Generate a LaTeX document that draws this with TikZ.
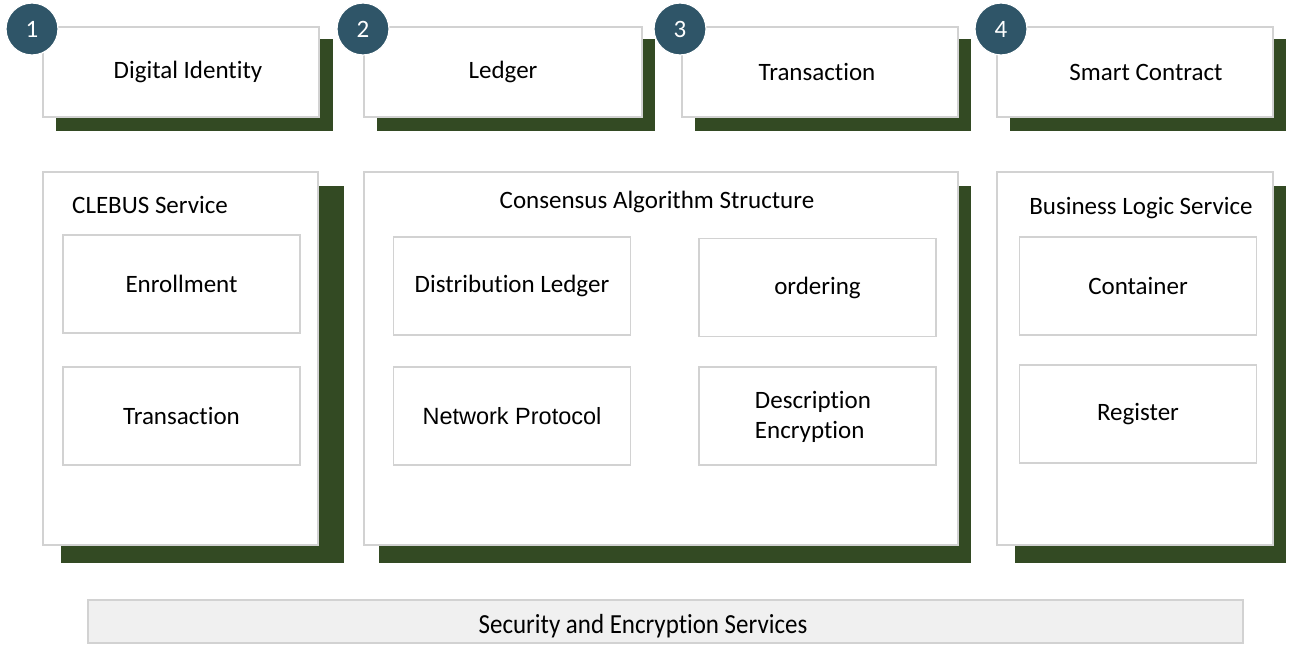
\documentclass[tikz,border=0pt]{standalone}
\usepackage{fontspec}
\setmainfont{Carlito}[Ligatures={NoCommon}]
\newfontfamily\arialfont{Liberation Sans}
\usetikzlibrary{backgrounds}
\definecolor{sgreen}{HTML}{334A23}
\definecolor{cblue}{HTML}{2F5568}
\definecolor{bgray}{HTML}{D2D2D2}
\definecolor{barfill}{HTML}{F0F0F0}
\begin{document}
\begin{tikzpicture}[x=1pt,y=-1pt,
  box/.style={draw=bgray, line width=1.8pt, fill=white, inner sep=0pt, align=center,
    font=\fontsize{25}{30}\selectfont},
  topbox/.style={box, minimum width=276pt, minimum height=90pt},
  bigbox/.style={box, minimum height=373pt},
  innerbox/.style={box, minimum width=237pt, minimum height=98pt},
  numc/.style={circle, fill=cblue, draw=white, line width=1.2pt, minimum size=52pt, inner sep=0pt,
    text=white, font=\fontsize{25}{28}\selectfont},
  title/.style={inner sep=0pt, font=\fontsize{25}{30}\selectfont},
  shadowfill/.style={fill=sgreen}
]
\useasboundingbox (0,0) rectangle (1289,645);

% top boxes
\node[topbox] (t1) at (181,72) {\raisebox{-2pt}{\hspace*{14pt}Digital Identity}};
\node[topbox, minimum width=278pt] (t2) at (503,72) {\raisebox{-2pt}{Ledger}};
\node[topbox] (t3) at (820,72) {Transaction\hspace*{6pt}};
\node[topbox] (t4) at (1135,72) {\hspace*{22pt}Smart Contract};

% number circles
\node[numc] (n1) at (32,29) {1};
\node[numc] (n2) at (363,29) {2};
\node[numc] (n3) at (680,29) {3};
\node[numc] (n4) at (1001,29) {4};

% middle boxes
\node[bigbox, minimum width=275pt] (m1) at (180.5,358.5) {};
\node[bigbox, minimum width=594pt] (m2) at (661,358.5) {};
\node[bigbox, minimum width=276pt] (m3) at (1135,358.5) {};

\node[title, anchor=west] (m1t) at (72,205) {CLEBUS Service};
\node[title] (m2t) at (657,202) {Consensus Algorithm Structure};
\node[title] (m3t) at (1141,208) {Business Logic Service};

\node[innerbox] (e1) at (181.5,284) {Enrollment};
\node[innerbox] (e2) at (181.5,416) {Transaction};

\node[innerbox] (c1) at (512,286) {\raisebox{-2pt}{Distribution Ledger}};
\node[innerbox] (c2) at (817.5,287.5) {ordering};
\node[innerbox, font=\arialfont\fontsize{23.5}{28}\selectfont] (c3) at (512,416) {\raisebox{-2pt}{Network Protocol}};
\node[innerbox] (c4) at (817.5,416) {};
\node[align=left, inner sep=0pt, font=\fontsize{25}{30}\selectfont] (c4t) at (813,417) {Description\\Encryption};

\node[innerbox] (g1) at (1138,286) {Container};
\node[innerbox] (g2) at (1138,414) {Register};

% bottom bar
\node[draw=bgray, line width=1.8pt, fill=barfill, minimum width=1155pt, minimum height=43pt,
  inner sep=0pt] (sec) at (665.5,621.5) {};
\node[inner sep=0pt, font=\fontsize{24}{28}\selectfont] (sect) at (643,626) {\scalebox{1.04}[1.15]{Security and Encryption Services}};

% shadows
\begin{scope}[on background layer]
\fill[shadowfill] ([shift={(14,13)}]t1.north west) rectangle ([shift={(13,13)}]t1.south east);
\fill[shadowfill] ([shift={(14,13)}]t2.north west) rectangle ([shift={(12,13)}]t2.south east);
\fill[shadowfill] ([shift={(14,13)}]t3.north west) rectangle ([shift={(12,13)}]t3.south east);
\fill[shadowfill] ([shift={(14,13)}]t4.north west) rectangle ([shift={(12,13)}]t4.south east);
\fill[shadowfill] ([shift={(19,15)}]m1.north west) rectangle ([shift={(25,17)}]m1.south east);
\fill[shadowfill] ([shift={(16,15)}]m2.north west) rectangle ([shift={(12,17)}]m2.south east);
\fill[shadowfill] ([shift={(19,15)}]m3.north west) rectangle ([shift={(12,17)}]m3.south east);
\end{scope}
\end{tikzpicture}
\end{document}
